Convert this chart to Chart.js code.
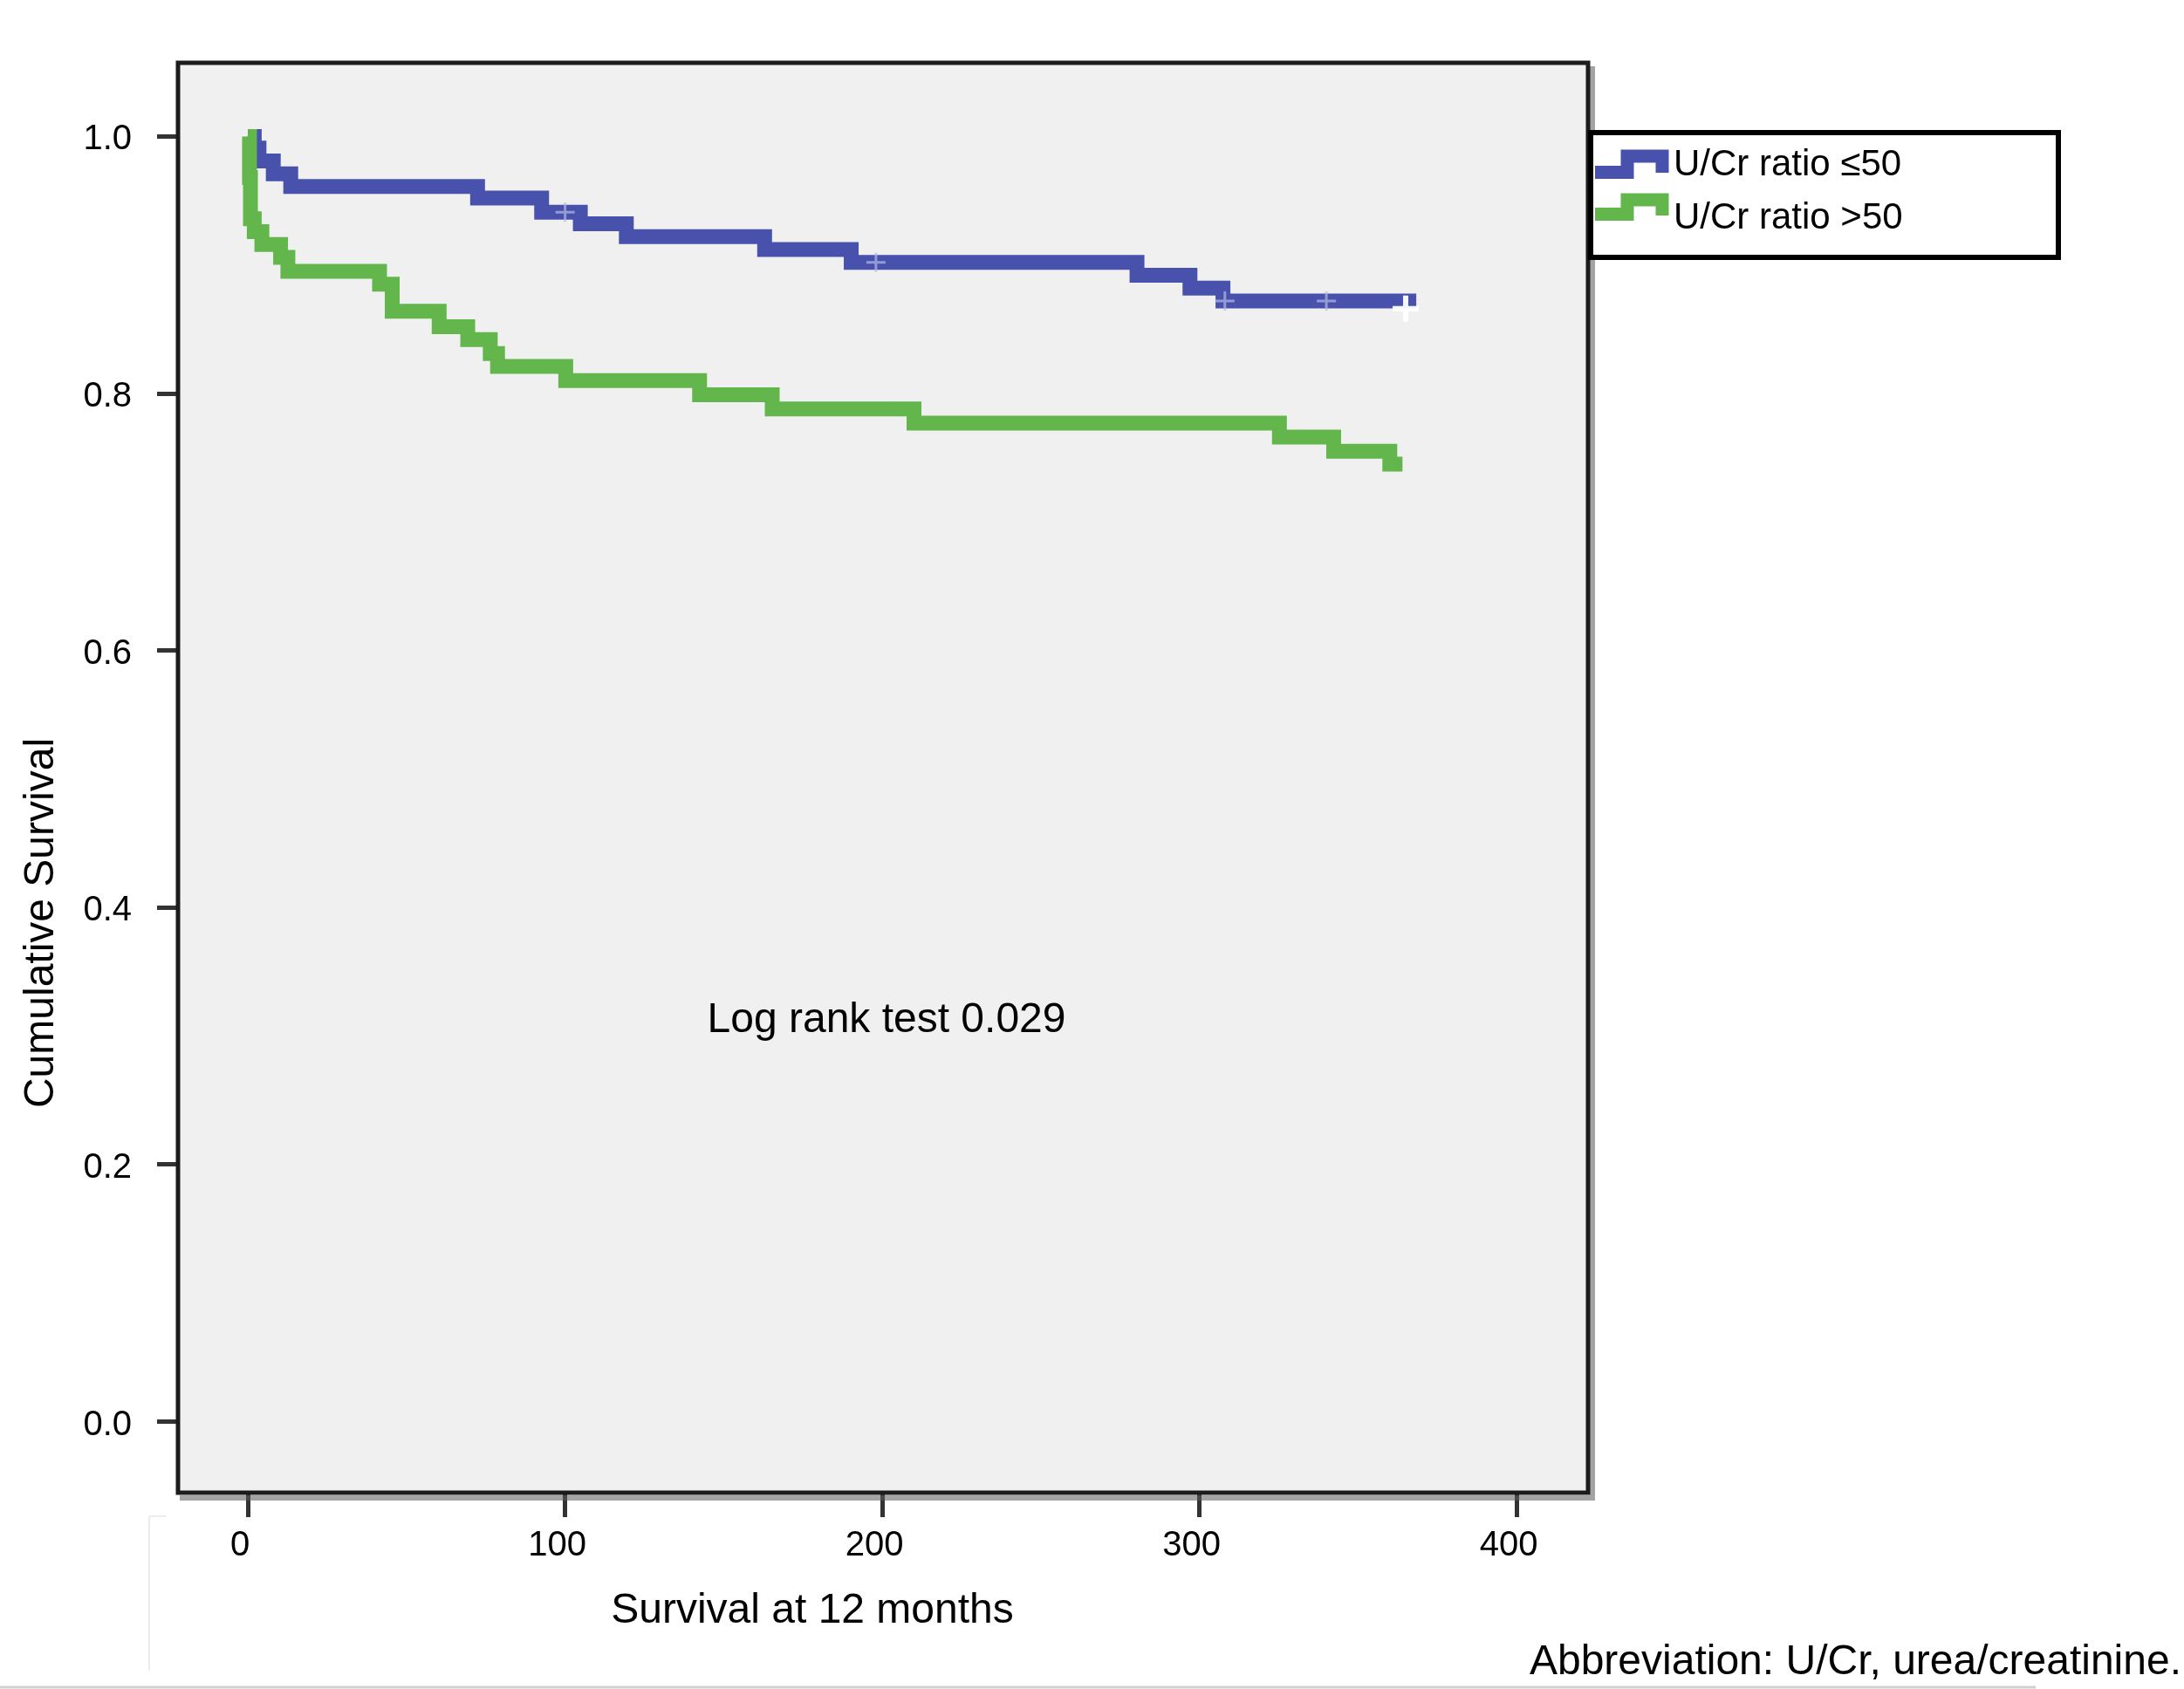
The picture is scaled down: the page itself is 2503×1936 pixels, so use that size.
<!DOCTYPE html>
<html><head><meta charset="utf-8">
<script src="https://cdn.jsdelivr.net/npm/chart.js@4/dist/chart.umd.min.js"></script>
<style>html,body{margin:0;padding:0;background:#fff;overflow:hidden}canvas{display:block}</style>
</head><body>
<canvas id="c" width="2503" height="1936"></canvas>
<script>
// ---- data ----
const xTickValues = [0, 100, 200, 300, 400];
const xTickLabels = ['0', '100', '200', '300', '400'];
const yTickValues = [0, 0.2, 0.4, 0.6, 0.8, 1.0];
const yTickLabels = ['0.0', '0.2', '0.4', '0.6', '0.8', '1.0'];
const seriesLabels = ['U/Cr ratio \u226450', 'U/Cr ratio >50'];

const lowTimes = [0, 2, 3.5, 8, 13.5, 72.4, 92.6, 104.8, 119.3, 162.9, 190.2, 280.3, 297, 307.4, 366];
const lowSurv  = [1.0, 0.991, 0.981, 0.971, 0.961, 0.952, 0.941, 0.932, 0.922, 0.912, 0.902, 0.892, 0.882, 0.872, 0.866];

const highTimes = [0, 0.5, 0.8, 2, 4.4, 10.3, 12.6, 41.5, 45.5, 60.3, 69.3, 76.4, 78.7, 100.2, 142.4, 165.3, 210, 325.2, 342.3, 360, 364];
const highSurv  = [1.0, 0.968, 0.936, 0.926, 0.916, 0.906, 0.895, 0.885, 0.864, 0.852, 0.842, 0.831, 0.821, 0.810, 0.799, 0.788, 0.777, 0.766, 0.755, 0.745, 0.745];

const lowCensorTimes = [100, 198, 308, 340];
const lowCensorSurv  = [0.941, 0.902, 0.872, 0.872];
const lowLastCensorTimes = [365];
const lowLastCensorSurv  = [0.866];

const xTitle = 'Survival at 12 months';
const yTitle = 'Cumulative Survival';
const noteText = 'Log rank test 0.029';
const footText = 'Abbreviation: U/Cr, urea/creatinine.';

// ---- helpers ----
const toPts = (xs, ys) => xs.map((x, i) => ({x: x, y: ys[i]}));
const BLUE = '#4852ad';
const GREEN = '#62b64c';
const FONT = '"Liberation Sans", Arial, Helvetica, sans-serif';

const decor = {
  id: 'decor',
  beforeDraw(chart) {
    const {ctx, chartArea: a} = chart;
    ctx.save();
    ctx.fillStyle = '#f0f0f0';
    ctx.fillRect(a.left, a.top, a.right - a.left, a.bottom - a.top);
    ctx.restore();
  },
  afterDatasetsDraw(chart) {
    const {ctx, chartArea: a} = chart;
    ctx.save();
    // shadow
    ctx.strokeStyle = 'rgba(90,90,90,0.55)';
    ctx.lineWidth = 6;
    ctx.beginPath();
    ctx.moveTo(a.left + 2, a.bottom + 6);
    ctx.lineTo(a.right + 5, a.bottom + 6);
    ctx.lineTo(a.right + 5, a.top + 4);
    ctx.stroke();
    // frame
    ctx.strokeStyle = '#1c1c1c';
    ctx.lineWidth = 5;
    ctx.strokeRect(a.left, a.top, a.right - a.left, a.bottom - a.top);
    ctx.restore();
  },
  afterDraw(chart) {
    const {ctx} = chart;
    const ds = chart.data.datasets;
    ctx.save();
    // legend box
    ctx.fillStyle = '#ffffff';
    ctx.fillRect(1823, 152, 536, 143);
    ctx.strokeStyle = '#000';
    ctx.lineWidth = 6;
    ctx.strokeRect(1823, 152, 536, 143);
    const rows = [{y: 189, low: 197.5, high: 179, end: 198}, {y: 250, low: 245.5, high: 229, end: 247}];
    rows.forEach((r, i) => {
      ctx.strokeStyle = ds[i].borderColor;
      ctx.lineWidth = 15;
      ctx.lineCap = 'butt';
      ctx.lineJoin = 'miter';
      ctx.beginPath();
      ctx.moveTo(1828, r.low);
      ctx.lineTo(1865, r.low);
      ctx.lineTo(1865, r.high);
      ctx.lineTo(1905, r.high);
      ctx.lineTo(1905, r.end);
      ctx.stroke();
      ctx.fillStyle = '#000';
      ctx.font = '42px ' + FONT;
      ctx.textAlign = 'left';
      ctx.textBaseline = 'middle';
      ctx.fillText(ds[i].label, 1918, r.y);
    });
    // texts
    ctx.fillStyle = '#000';
    ctx.font = '48px ' + FONT;
    ctx.textAlign = 'center';
    ctx.textBaseline = 'middle';
    ctx.fillText(noteText, 1016, 1170);
    ctx.fillText(xTitle, 931, 1847);
    ctx.save();
    ctx.translate(48, 1058);
    ctx.rotate(-Math.PI / 2);
    ctx.fillText(yTitle, 0, 0);
    ctx.restore();
    ctx.font = '48px ' + FONT;
    ctx.textAlign = 'right';
    ctx.fillText(footText, 2500, 1906);
    // faint page lines
    ctx.strokeStyle = '#d0d0d0';
    ctx.lineWidth = 3;
    ctx.beginPath();
    ctx.moveTo(0, 1934); ctx.lineTo(2333, 1934);
    ctx.stroke();
    ctx.strokeStyle = '#ececec';
    ctx.lineWidth = 2;
    ctx.beginPath();
    ctx.moveTo(171, 1738); ctx.lineTo(171, 1915);
    ctx.moveTo(171, 1738); ctx.lineTo(190, 1738);
    ctx.stroke();
    ctx.restore();
  }
};

new Chart(document.getElementById('c'), {
  type: 'line',
  data: {
    datasets: [
      {label: seriesLabels[0], data: toPts(lowTimes, lowSurv), borderColor: BLUE, borderWidth: 17,
       stepped: 'before', pointRadius: 0, fill: false, borderCapStyle: 'butt', borderJoinStyle: 'miter', order: 2},
      {label: seriesLabels[1], data: toPts(highTimes, highSurv), borderColor: GREEN, borderWidth: 17,
       stepped: 'before', pointRadius: 0, fill: false, borderCapStyle: 'butt', borderJoinStyle: 'miter', order: 1},
      {label: 'censorLow', data: toPts(lowCensorTimes, lowCensorSurv), showLine: false, pointStyle: 'cross',
       pointRadius: 11, pointBorderWidth: 3, pointBorderColor: 'rgba(180,186,228,0.7)', order: 0},
      {label: 'censorLowLast', data: toPts(lowLastCensorTimes, lowLastCensorSurv), showLine: false, pointStyle: 'cross',
       pointRadius: 15, pointBorderWidth: 6, pointBorderColor: 'rgba(255,255,255,0.95)', order: 0}
    ]
  },
  options: {
    responsive: false,
    maintainAspectRatio: false,
    devicePixelRatio: 1,
    animation: false,
    events: [],
    layout: {padding: {top: 72, right: 683, bottom: 0, left: 0}},
    plugins: {legend: {display: false}, tooltip: {enabled: false}, title: {display: false}},
    scales: {
      x: {
        type: 'linear', min: -22.04, max: 422.5,
        afterFit: (s) => { s.height = 225; },
        afterBuildTicks: (s) => { s.ticks = xTickValues.map(v => ({value: v})); },
        grid: {drawOnChartArea: false, drawTicks: true, tickLength: 28, tickWidth: 5, tickColor: '#333'},
        border: {display: false},
        ticks: {padding: 9, labelOffset: -9, maxRotation: 0, autoSkip: false, color: '#000',
                font: {family: FONT, size: 40},
                callback: (v) => xTickLabels[xTickValues.indexOf(v)]}
      },
      y: {
        type: 'linear', min: -0.0553, max: 1.0573,
        afterFit: (s) => { s.width = 204; },
        afterBuildTicks: (s) => { s.ticks = yTickValues.map(v => ({value: v})); },
        grid: {drawOnChartArea: false, drawTicks: true, tickLength: 24, tickWidth: 5, tickColor: '#333'},
        border: {display: false},
        ticks: {padding: 29, labelOffset: 4, autoSkip: false, color: '#000',
                font: {family: FONT, size: 40},
                callback: (v) => { const i = yTickValues.findIndex(t => Math.abs(t - v) < 1e-9); return i >= 0 ? yTickLabels[i] : ''; }}
      }
    }
  },
  plugins: [decor]
});
</script>
</body></html>
